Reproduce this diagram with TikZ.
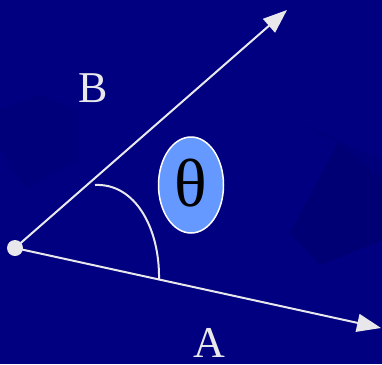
\documentclass[tikz,border=0pt]{standalone}
\usepackage{fontspec}
\setmainfont{Liberation Serif}
\usetikzlibrary{arrows.meta,shapes.geometric}
\definecolor{bg}{HTML}{000080}
\definecolor{bgdark}{HTML}{00007A}
\definecolor{bgdarker}{HTML}{000074}
\definecolor{linec}{HTML}{E8E8EC}
\definecolor{ellfill}{HTML}{6699FF}
\tikzset{
  vec/.style={draw=linec, line width=2pt, -{Triangle[length=24pt,width=18pt]}},
  lbl/.style={text=linec, font=\fontsize{44}{44}\selectfont, inner sep=0pt},
}
\begin{document}
\begin{tikzpicture}[x=1pt,y=-1pt]
\fill[bg] (0,0) rectangle (382,364);
\useasboundingbox (0,0) rectangle (382,364);
% faint background texture shapes
\fill[bgdark] (0,150) -- (0,110) -- (40,95) -- (78,110) -- (78,160) -- (25,188) -- cycle;
\fill[bgdark] (293,120) -- (338,143) -- (290,233) -- (320,265) -- (382,240) -- (382,160) -- cycle;
\fill[bgdarker] (338,143) -- (290,233) -- (320,265) -- (382,240) -- (382,180) -- cycle;
% nodes
\coordinate (O) at (15,248);
\coordinate (Btip) at (287,10);
\coordinate (Atip) at (381,328);
\coordinate (arcS) at (95,185);
\coordinate (arcE) at (159,280);
\draw[vec] (O) -- (Btip);
\draw[vec] (O) -- (Atip);
\draw[draw=linec, line width=2pt] (arcS) .. controls (135,183) and (160,228) .. (arcE);
\node[circle, fill=linec, minimum size=16pt, inner sep=0pt] (dot) at (O) {};
\node[ellipse, draw=white, line width=1.5pt, fill=ellfill, minimum width=65pt, minimum height=96pt, inner sep=0pt] (theta) at (191,185) {};
\node[text=black, font=\fontsize{68}{68}\selectfont, inner sep=0pt] (th) at (191,183) {θ};
\node[lbl] (B) at (93,88) {B};
\node[lbl] (A) at (209,343) {A};
\end{tikzpicture}
\end{document}
